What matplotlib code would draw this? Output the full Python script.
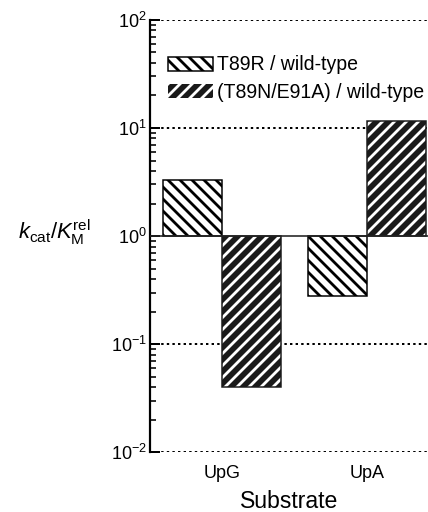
import numpy as np
import matplotlib.pyplot as plt
from matplotlib.patches import Patch

plt.rcParams['font.family'] = ['Liberation Sans', 'DejaVu Sans']
plt.rcParams['mathtext.fontset'] = 'custom'
plt.rcParams['mathtext.rm'] = 'Liberation Sans'
plt.rcParams['mathtext.it'] = 'Liberation Sans:italic'
plt.rcParams['mathtext.bf'] = 'Liberation Sans:bold'
plt.rcParams['hatch.linewidth'] = 2.8

substrates = ["UpG", "UpA"]
t89r = [3.3, 0.28]
t89n_e91a = [0.04, 11.6]
labels = ["T89R / wild-type", "(T89N/E91A) / wild-type"]

fig = plt.figure(figsize=(428 / 72, 512 / 72), dpi=72)
ax = fig.add_axes([0.350, 0.117, 0.650, 0.844])

x = np.arange(len(substrates))
w = 0.405

# gridlines at decades (dotted), baseline at 1 solid
for yv in [1e-2, 1e-1, 1e1, 1e2]:
    ax.axhline(yv, color="black", linestyle=(0, (1.2, 1.6)), linewidth=2, zorder=0.5)

h1 = np.array(t89r) - 1
h2 = np.array(t89n_e91a) - 1
ax.bar(x - w / 2, h1, w, bottom=1, facecolor="white", edgecolor="black",
       hatch="\\\\", linewidth=1.5, zorder=2)
ax.bar(x + w / 2, h2, w, bottom=1, facecolor="#1a1a1a", edgecolor="white",
       hatch="//", linewidth=0, zorder=2)
ax.bar(x + w / 2, h2, w, bottom=1, fill=False, edgecolor="#1a1a1a",
       linewidth=1.5, zorder=3)
ax.axhline(1, color="#222222", linewidth=1.6, zorder=4)

ax.set_yscale("log")
ax.set_ylim(1e-2, 1e2)
ax.set_xlim(-0.497, 1.42)
ax.set_xticks(x)
ax.set_xticklabels(substrates, fontsize=18)
ax.tick_params(axis="x", length=0, pad=13)
ax.tick_params(axis="y", which="major", direction="in", length=10, width=2,
               labelsize=18, pad=3)
ax.tick_params(axis="y", which="minor", direction="in", length=6, width=1.6)

for s in ["top", "right", "bottom"]:
    ax.spines[s].set_visible(False)
ax.spines["left"].set_linewidth(2.2)

ax.set_xlabel("Substrate", fontsize=23, labelpad=8)
ax.set_ylabel(r"$k_\mathrm{cat}/K_\mathrm{M}^\mathrm{rel}$", fontsize=22,
              rotation=0, va="center", ha="right")
ax.yaxis.set_label_coords(-0.215, 0.51)

handles = [
    Patch(facecolor="white", edgecolor="black", hatch="\\\\", linewidth=1.5),
    Patch(facecolor="#1a1a1a", edgecolor="white", hatch="//", linewidth=0),
]
leg = ax.legend(handles, labels, loc="upper left", bbox_to_anchor=(0.065, 0.918),
                frameon=False, fontsize=19.5, handlelength=2.3, handleheight=0.72,
                handletextpad=0.2, labelspacing=0.42, borderaxespad=0,
                borderpad=0)

fig.savefig("out.png", dpi=72)
